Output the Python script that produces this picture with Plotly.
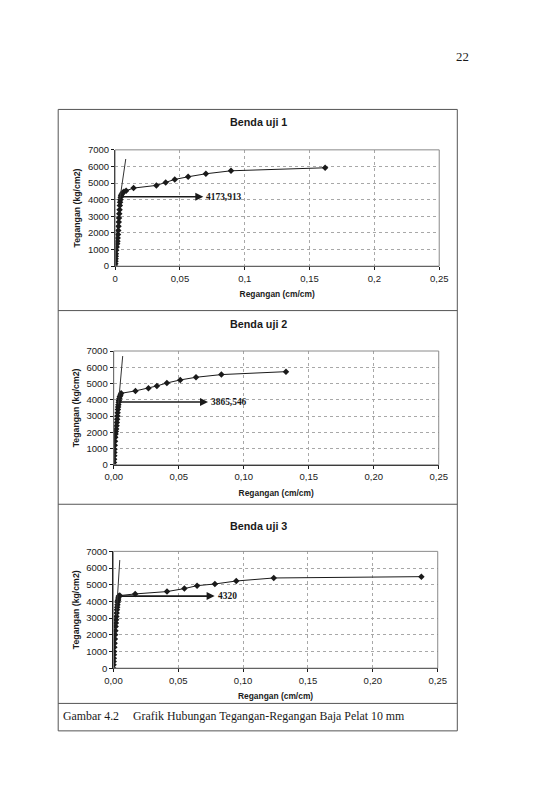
import plotly.graph_objects as go

# Benda uji 1
strain_1 = [0, 0.0002, 0.0003, 0.0004, 0.0005, 0.0006, 0.0008, 0.0012, 0.0016, 0.0018,
            0.0020, 0.0022, 0.0024, 0.0026, 0.0028, 0.0030, 0.0032, 0.0034, 0.0036, 0.0038,
            0.0040, 0.0043, 0.0046, 0.0050, 0.0058, 0.0068, 0.0085,
            0.0142, 0.0318, 0.0390, 0.0460, 0.0563, 0.0700, 0.0894, 0.1620]
stress_1 = [0, 150, 300, 450, 600, 750, 950, 1150, 1350, 1500,
            1700, 1900, 2150, 2400, 2650, 2900, 3150, 3400, 3650, 3850,
            4000, 4150, 4250, 4330, 4420, 4480, 4540,
            4700, 4860, 5040, 5220, 5380, 5560, 5740, 5920]
elastic_x_1 = [0.0036, 0.0082]
elastic_y_1 = [4000, 6450]
yield_1 = 4173.913
yield_txt_1 = "4173,913"

# Benda uji 2
strain_2 = [0, 0.0002, 0.0003, 0.0004, 0.0005, 0.0006, 0.0008, 0.0010, 0.0012, 0.0014,
            0.0016, 0.0019, 0.0022, 0.0024, 0.0026, 0.0028, 0.0030, 0.0032, 0.0034, 0.0036,
            0.0038, 0.0040, 0.0043, 0.0047, 0.0052, 0.0057,
            0.0167, 0.0267, 0.0332, 0.0409, 0.0512, 0.0633, 0.0828, 0.1325]
stress_2 = [0, 150, 350, 550, 750, 950, 1200, 1450, 1700, 1900,
            2050, 2200, 2400, 2600, 2800, 3000, 3200, 3400, 3550, 3700,
            3850, 3950, 4080, 4200, 4300, 4400,
            4545, 4710, 4850, 5035, 5220, 5385, 5550, 5730]
elastic_x_2 = [0.0036, 0.0069]
elastic_y_2 = [3725, 6690]
yield_2 = 3865.546
yield_txt_2 = "3865,546"

# Benda uji 3
strain_3 = [0, 0.0001, 0.0002, 0.0003, 0.0004, 0.0005, 0.0007, 0.0009, 0.0011, 0.0013,
            0.0015, 0.0017, 0.0019, 0.0021, 0.0023, 0.0025, 0.0027, 0.0029, 0.0031, 0.0033,
            0.0035, 0.0037, 0.0039, 0.0042, 0.0049,
            0.0168, 0.0413, 0.0547, 0.0645, 0.0782, 0.0947, 0.1236, 0.2374]
stress_3 = [0, 200, 400, 600, 800, 1000, 1250, 1500, 1750, 2000,
            2250, 2500, 2700, 2900, 3100, 3300, 3500, 3650, 3800, 3950,
            4050, 4150, 4250, 4320, 4350,
            4450, 4590, 4770, 4945, 5045, 5225, 5405, 5485]
elastic_x_3 = [0.0022, 0.0049]
elastic_y_3 = [3150, 6480]
yield_3 = 4320
yield_txt_3 = "4320"

x_ticks = [0, 0.05, 0.10, 0.15, 0.20, 0.25]
x_labels_1 = ["0", "0,05", "0,1", "0,15", "0,2", "0,25"]
x_labels_23 = ["0,00", "0,05", "0,10", "0,15", "0,20", "0,25"]
y_ticks = [0, 1000, 2000, 3000, 4000, 5000, 6000, 7000]

W, H = 537, 804
INK = "#1a1a1a"
GRID = "#a8a8a8"
SANS = "Liberation Sans, Arial, sans-serif"
SERIF = "Liberation Serif, Times New Roman, serif"

# the photographed picture shows the page a bit smaller and inset,
# so positions measured on the scan are converted back to page pixels
PIC_X0, PIC_SX = 10.0, 0.9626
PIC_Y0, PIC_SY = 4.4, 0.988
FS = 1 / 0.975


def px_x(v):
    return ((v - PIC_X0) / PIC_SX) / W


def px_y(v):
    return 1 - ((v - PIC_Y0) / PIC_SY) / H


fig = go.Figure()

# panel: (strain, stress, elastic x, elastic y, yield, label, arrow end, x labels,
#         plot left, right, top, bottom, title y in scan px, title)
panels = [
    (strain_1, stress_1, elastic_x_1, elastic_y_1, yield_1, yield_txt_1, 0.068, x_labels_1,
     115.7, 438.5, 148.5, 265.0, 121, "Benda uji 1"),
    (strain_2, stress_2, elastic_x_2, elastic_y_2, yield_2, yield_txt_2, 0.0725, x_labels_23,
     114.3, 438.0, 350.0, 464.0, 323, "Benda uji 2"),
    (strain_3, stress_3, elastic_x_3, elastic_y_3, yield_3, yield_txt_3, 0.078, x_labels_23,
     114.0, 437.0, 550.7, 667.7, 525, "Benda uji 3"),
]

for i, (sx, sy, ex, ey, yv, ytxt, xend, xlab, l, r, t, b, ty, title) in enumerate(panels, start=1):
    xa = "x" if i == 1 else f"x{i}"
    ya = "y" if i == 1 else f"y{i}"
    fig.add_trace(go.Scatter(
        x=sx, y=sy, mode="lines+markers", xaxis=xa, yaxis=ya,
        line=dict(color=INK, width=1),
        marker=dict(symbol="diamond", size=5, color=INK),
        showlegend=False, hoverinfo="skip"))
    fig.add_trace(go.Scatter(
        x=ex, y=ey, mode="lines", xaxis=xa, yaxis=ya,
        line=dict(color="#333", width=1),
        showlegend=False, hoverinfo="skip"))

    xkey = "xaxis" if i == 1 else f"xaxis{i}"
    ykey = "yaxis" if i == 1 else f"yaxis{i}"
    fig.update_layout({
        xkey: dict(domain=[px_x(l), px_x(r)], anchor=ya, range=[0, 0.25],
                   tickvals=x_ticks, ticktext=xlab, showgrid=True,
                   gridcolor=GRID, griddash="dot", gridwidth=1,
                   showline=True, linecolor=INK, linewidth=1.2,
                   ticks="outside", ticklen=3, tickcolor=INK, zeroline=False,
                   tickfont=dict(family=SANS, size=9.3 * FS, color=INK),
                   title=dict(text="<b>Regangan (cm/cm)</b>", standoff=8,
                              font=dict(family=SANS, size=8.2 * FS, color=INK))),
        ykey: dict(domain=[px_y(b), px_y(t)], anchor=xa, range=[0, 7000],
                   tickvals=y_ticks, showgrid=True,
                   gridcolor=GRID, griddash="dot", gridwidth=1,
                   showline=True, linecolor=INK, linewidth=1.2,
                   ticks="outside", ticklen=3, tickcolor=INK, zeroline=False,
                   tickfont=dict(family=SANS, size=9.3 * FS, color=INK),
                   title=dict(text="<b>Tegangan (kg/cm2)</b>", standoff=5,
                              font=dict(family=SANS, size=8.5 * FS, color=INK))),
    })

    # light frame round the plot area
    fig.add_shape(type="rect", xref=f"{xa} domain", yref=f"{ya} domain",
                  x0=0, x1=1, y0=0, y1=1, line=dict(color="#8a8a8a", width=1))

    # yield arrow and value
    fig.add_annotation(x=xend, y=yv, ax=0.004, ay=yv, xref=xa, yref=ya,
                       axref=xa, ayref=ya, text="", showarrow=True,
                       arrowhead=2, arrowsize=1, arrowwidth=1.6, arrowcolor=INK)
    fig.add_annotation(x=xend + 0.0008, y=yv, xref=xa, yref=ya, text=f"<b>{ytxt}</b>",
                       showarrow=False, xanchor="left", yanchor="middle",
                       font=dict(family=SERIF, size=9.2 * FS, color=INK))

    # panel title
    fig.add_annotation(x=px_x(258.5), y=px_y(ty), xref="paper", yref="paper",
                       xanchor="center", yanchor="middle",
                       text=f"<b>{title}</b>", showarrow=False,
                       font=dict(family=SANS, size=10.5 * FS, color=INK))

# outer frame and dividers of the figure box
frame_l, frame_r, frame_t, frame_b = 59, 456.5, 108, 730.5
fig.add_shape(type="rect", xref="paper", yref="paper",
              x0=px_x(frame_l), x1=px_x(frame_r), y0=px_y(frame_b), y1=px_y(frame_t),
              line=dict(color="#555", width=1))
for yy in [309.5, 503.5, 703.0]:
    fig.add_shape(type="line", xref="paper", yref="paper",
                  x0=px_x(frame_l), x1=px_x(frame_r), y0=px_y(yy), y1=px_y(yy),
                  line=dict(color="#555", width=1))

fig.add_annotation(x=px_x(61.5), y=px_y(716), xref="paper", yref="paper",
                   text="Gambar 4.2", showarrow=False, xanchor="left", yanchor="middle",
                   font=dict(family=SERIF, size=11.6 * FS, color=INK))
fig.add_annotation(x=px_x(131.5), y=px_y(716), xref="paper", yref="paper",
                   text="Grafik Hubungan Tegangan-Regangan Baja Pelat 10 mm",
                   showarrow=False, xanchor="left", yanchor="middle",
                   font=dict(family=SERIF, size=11.6 * FS, color=INK))

# page number
fig.add_annotation(x=px_x(462), y=px_y(55), xref="paper", yref="paper",
                   xanchor="center", yanchor="middle",
                   text="22", showarrow=False,
                   font=dict(family=SERIF, size=12.5 * FS, color=INK))

fig.update_layout(width=W, height=H, margin=dict(l=0, r=0, t=0, b=0),
                  paper_bgcolor="white", plot_bgcolor="white")

# no body margin, so the figure sits exactly in the window
fig.write_html("out.html", config={"displayModeBar": False},
               post_script="document.body.style.margin='0';document.body.style.overflow='hidden';")
